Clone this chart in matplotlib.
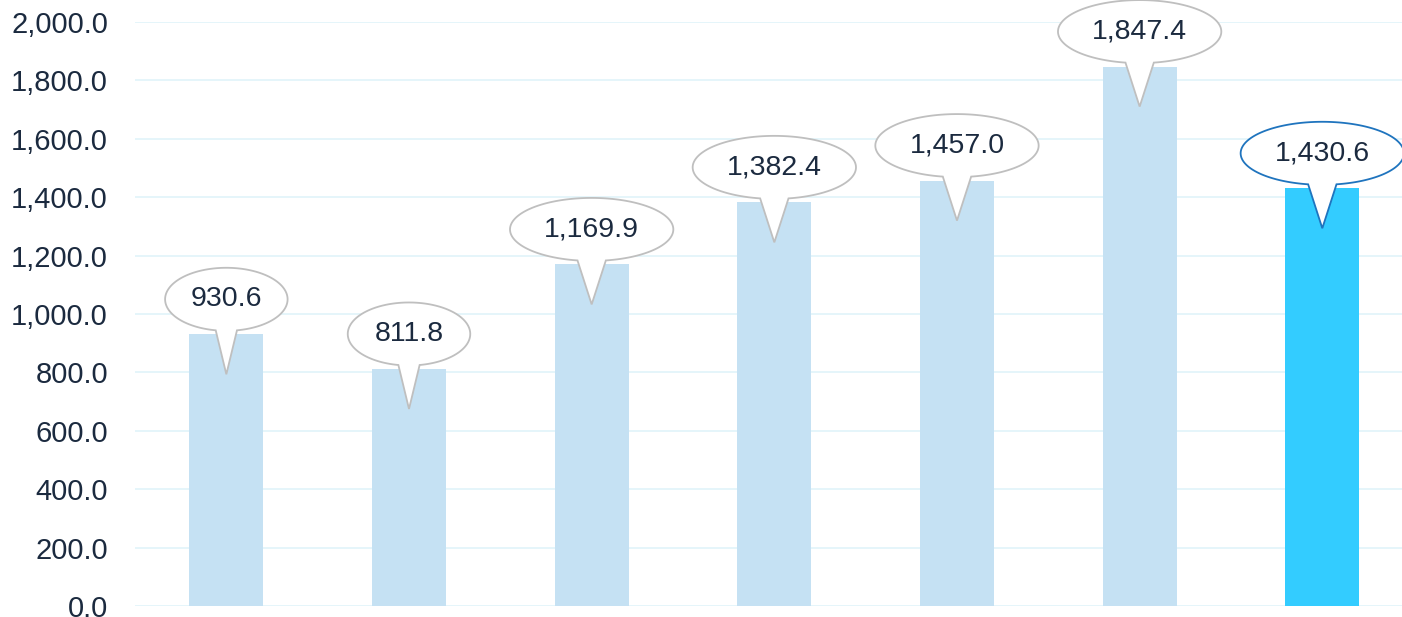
import numpy as np
import matplotlib.pyplot as plt
from matplotlib.patches import Polygon
from matplotlib.ticker import FuncFormatter

plt.rcParams['font.family'] = ['Liberation Sans', 'DejaVu Sans']

# valores das barras
categorias = ['1', '2', '3', '4', '5', '6', '7']
valores = [930.6, 811.8, 1169.9, 1382.4, 1457.0, 1847.4, 1430.6]
cores = ['#C5E1F3'] * 6 + ['#33CCFF']
bordas = ['#BFBFBF'] * 6 + ['#1F74BE']

cor_texto = '#1B2A3F'

fig = plt.figure(figsize=(14.02, 6.17), dpi=100)
ax = fig.add_axes([0.0963, 0.0178, 0.912, 0.9465])

x = np.arange(len(categorias))
ax.bar(x, valores, width=0.405, color=cores, zorder=2)

ax.set_xlim(-0.5, len(categorias) - 0.5)
ax.set_ylim(0, 2000)
ax.set_yticks(np.arange(0, 2001, 200))
ax.yaxis.set_major_formatter(FuncFormatter(lambda v, p: f'{v:,.1f}'))
ax.tick_params(axis='y', length=0, pad=19.5, labelsize=21, labelcolor=cor_texto)
ax.set_xticks([])
ax.grid(axis='y', color='#E0F4FA', linewidth=1.2, zorder=0)
for s in ax.spines.values():
    s.set_visible(False)

# balões com o valor (em unidades de dados: px convertidos)
px_x = 7 / 1279.0
px_y = 2000 / 584.0
em = 20.5 * 100 / 72.0
b = 31.5 * px_y
for xi, v, borda in zip(x, valores, bordas):
    rotulo = f'{v:,.1f}'
    larg = sum(0.278 if c in ',.' else 0.556 for c in rotulo) * em
    a = larg * 0.5 * 1.72 * px_x
    cx = xi
    cy = v + 35 * px_y
    ponta = (xi, v - 40 * px_y)
    t = np.linspace(np.deg2rad(-80), np.deg2rad(260), 200)
    pts = [(cx + a * np.cos(tt), cy + b * np.sin(tt)) for tt in t]
    pts.append(ponta)
    balao = Polygon(pts, closed=True, facecolor='white', edgecolor=borda,
                    linewidth=1.3, zorder=3, clip_on=False)
    ax.add_patch(balao)
    ax.text(cx, cy, rotulo, ha='center', va='center', fontsize=20.5,
            color=cor_texto, zorder=4, clip_on=False)

fig.savefig('out.png', dpi=100)
